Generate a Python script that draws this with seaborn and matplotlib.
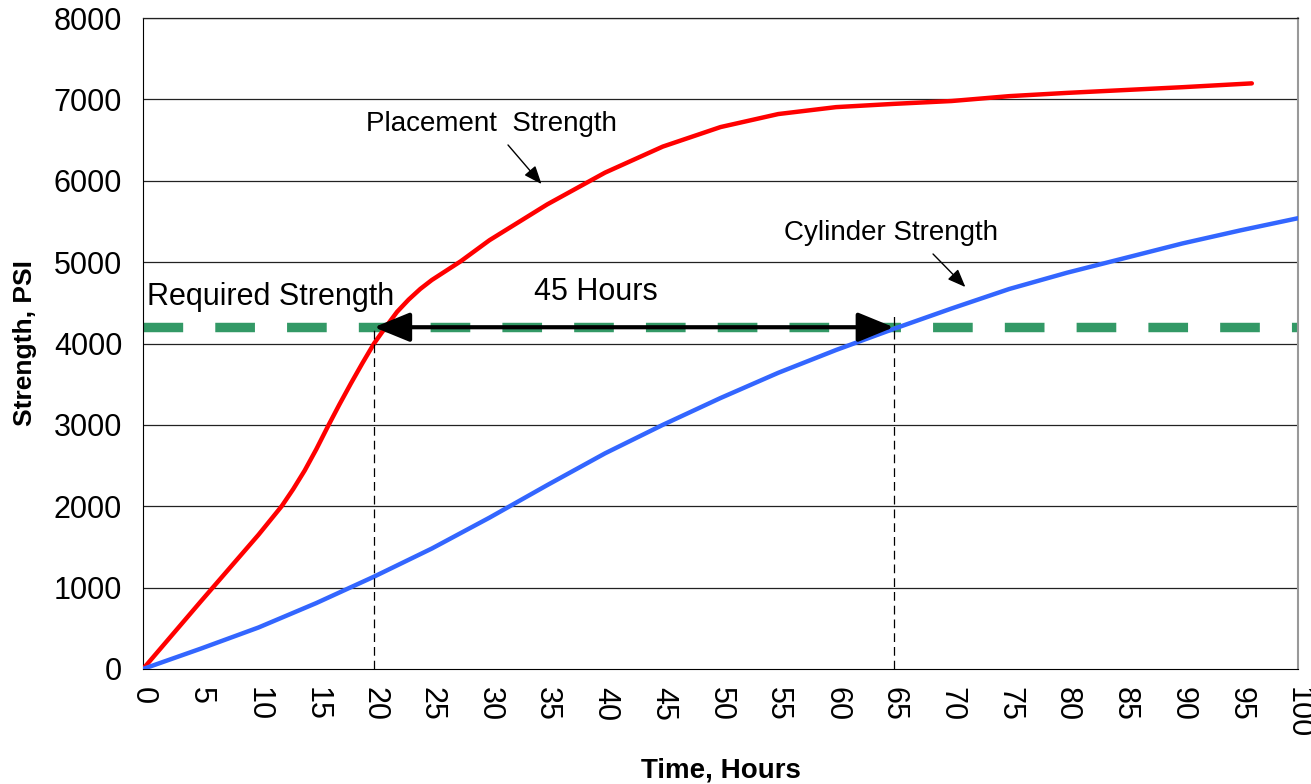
import matplotlib
matplotlib.use("Agg")
import matplotlib.pyplot as plt
import seaborn as sns
import pandas as pd

# strength development curves
placement_hours = [0, 5, 10, 12, 13, 14, 15, 16, 17, 18, 19, 20, 21, 22, 23, 24,
                   25, 27.5, 30, 35, 40, 45, 50, 55, 60, 65, 70, 75, 80, 85, 90, 96]
placement_psi = [0, 830, 1650, 2000, 2210, 2440, 2700, 2980, 3250, 3510, 3760,
                 4000, 4200, 4390, 4540, 4670, 4780, 5010, 5270, 5710, 6100,
                 6420, 6660, 6820, 6905, 6945, 6980, 7040, 7080, 7115, 7150, 7197]

cylinder_hours = [0, 5, 10, 15, 20, 25, 30, 35, 40, 45, 50, 55, 60, 65, 70,
                  75, 80, 85, 90, 95, 100]
cylinder_psi = [0, 250, 510, 810, 1135, 1480, 1860, 2260, 2650, 3000, 3330,
                3640, 3920, 4180, 4430, 4670, 4870, 5050, 5230, 5390, 5540]

required_psi = 4200
placement_time = 20
cylinder_time = 65

x_ticks = list(range(0, 101, 5))
y_ticks = list(range(0, 8001, 1000))

placement = pd.DataFrame({"hours": placement_hours, "psi": placement_psi})
cylinder = pd.DataFrame({"hours": cylinder_hours, "psi": cylinder_psi})
required = pd.DataFrame({"hours": [0, 100], "psi": [required_psi, required_psi]})

sns.set_style("white")
plt.rcParams["font.family"] = ["Liberation Sans", "DejaVu Sans"]
plt.rcParams["text.color"] = "black"
plt.rcParams["axes.labelcolor"] = "black"
plt.rcParams["xtick.color"] = "black"
plt.rcParams["ytick.color"] = "black"

fig = plt.figure(figsize=(13.11, 7.84), dpi=100)
ax = fig.add_axes([0.1091, 0.1467, 0.8810, 0.8303])

# horizontal grid
for yv in y_ticks[1:]:
    ax.axhline(yv, color="#222222", lw=0.9, zorder=0)

sns.lineplot(data=required, x="hours", y="psi", ax=ax, color="#339966",
             lw=6.8, zorder=2).lines[-1].set_dashes((4.2, 3.4))
sns.lineplot(data=placement, x="hours", y="psi", ax=ax, color="#ff0000",
             lw=3.2, zorder=3, solid_capstyle="round", solid_joinstyle="round")
sns.lineplot(data=cylinder, x="hours", y="psi", ax=ax, color="#3366ff",
             lw=3.2, zorder=3, solid_joinstyle="round")

# vertical drop lines
ax.plot([placement_time, placement_time], [0, required_psi], color="black",
        lw=0.9, ls=(0, (7, 4)), zorder=4)
ax.plot([cylinder_time, cylinder_time], [0, 4350], color="black",
        lw=0.9, ls=(0, (7, 4)), zorder=4)

# 45 hour arrow
ax.annotate("", xy=(placement_time, required_psi), xytext=(cylinder_time, required_psi),
            arrowprops=dict(arrowstyle="<|-|>,head_length=1.1,head_width=0.45",
                            mutation_scale=20, color="black", lw=3,
                            shrinkA=0, shrinkB=0), zorder=5)

ax.text(39.2, 4633, "45 Hours", fontsize=22, ha="center", va="center")
ax.text(0.35, 4571, "Required Strength", fontsize=22, ha="left", va="center")
ax.text(30.2, 6697, "Placement  Strength", fontsize=20, ha="center", va="center")
ax.text(64.8, 5358, "Cylinder Strength", fontsize=20, ha="center", va="center")

small_head = dict(arrowstyle="-|>,head_length=0.55,head_width=0.22",
                  mutation_scale=20, color="black", lw=1, shrinkA=0, shrinkB=0)
ax.annotate("", xy=(34.5, 5960), xytext=(31.6, 6440), arrowprops=small_head)
ax.annotate("", xy=(71.2, 4694), xytext=(68.4, 5100), arrowprops=small_head)

ax.set_xlim(0, 100)
ax.set_ylim(0, 8000)
ax.set_xticks(x_ticks)
ax.set_yticks(y_ticks)
ax.set_xticklabels([str(v) for v in x_ticks], rotation=-90, fontsize=22)
ax.set_yticklabels([str(v) for v in y_ticks], fontsize=22)
ax.tick_params(axis="both", direction="out", length=9, width=1, color="#444444",
               pad=4)
ax.tick_params(axis="y", pad=6)

ax.set_xlabel("Time, Hours", fontsize=20, fontweight="bold", labelpad=14)
ax.set_ylabel("Strength, PSI", fontsize=19, fontweight="bold", labelpad=12)

ax.spines["left"].set_color("black")
ax.spines["bottom"].set_color("black")
ax.spines["top"].set_color("#222222")
ax.spines["top"].set_linewidth(0.9)
ax.spines["right"].set_color("#999999")
ax.spines["right"].set_linewidth(1.5)

fig.savefig("out.png", dpi=100)
